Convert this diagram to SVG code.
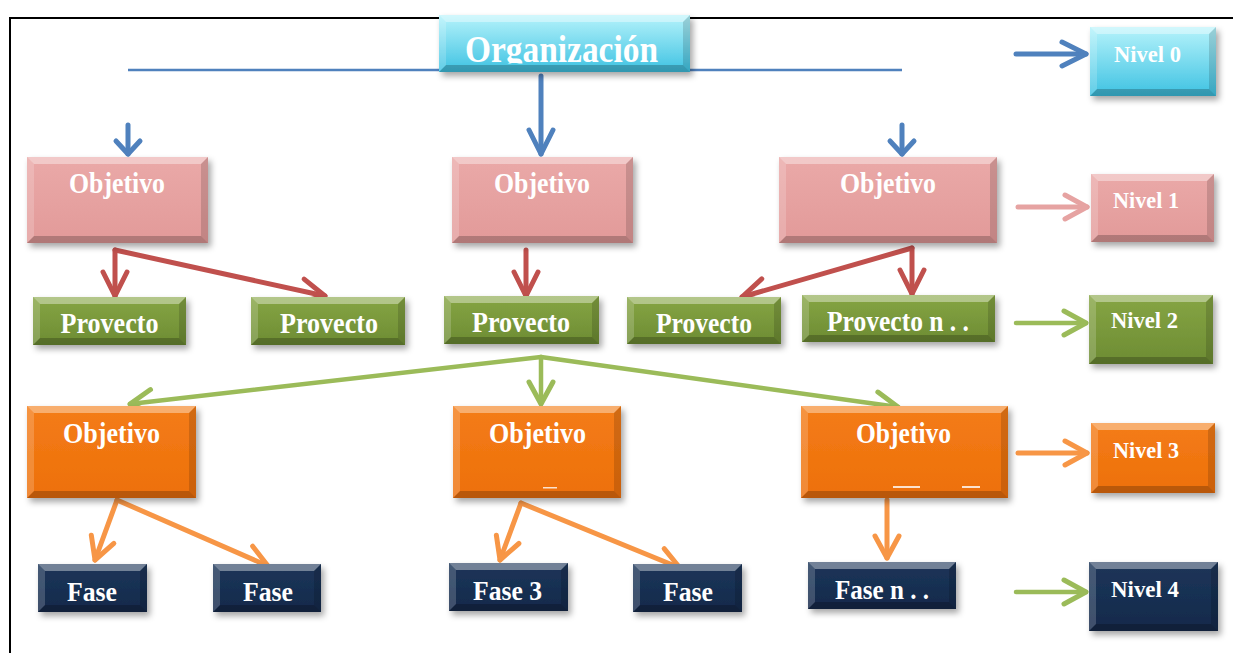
<svg xmlns="http://www.w3.org/2000/svg" width="1233" height="653" viewBox="0 0 1233 653">
  <defs>
    <style>
      .t{font-family:"Liberation Serif","Times New Roman",serif;font-weight:bold;fill:#fff;text-anchor:middle}
      .big{font-size:29px}
      .fase{font-size:28px}
      .niv{font-size:23px}
      .org{font-size:37px}
      .bt{fill:#fff;fill-opacity:.38}
      .bl{fill:#fff;fill-opacity:.18}
      .bb{fill:#000;fill-opacity:.22}
      .br{fill:#000;fill-opacity:.14}
      .box{filter:url(#sh)}
      .c{fill:none;stroke-linecap:round;stroke-linejoin:round}
      .blue{stroke:#4f81bd;stroke-width:5}
      .red{stroke:#c0504d;stroke-width:5}
      .grn{stroke:#9bbb59;stroke-width:4.5}
      .ora{stroke:#f79646;stroke-width:5}
      .pnk{stroke:#e6a3a2;stroke-width:5}
    </style>
    <filter id="sh" x="-10%" y="-10%" width="125%" height="140%">
      <feDropShadow dx="3" dy="4" stdDeviation="3" flood-color="#000" flood-opacity=".35"/>
    </filter>
    <linearGradient id="gCyan" x1="0" y1="0" x2="0" y2="1">
      <stop offset="0" stop-color="#b6f3fb"/><stop offset="1" stop-color="#3ec2e2"/>
    </linearGradient>
    <linearGradient id="gPink" x1="0" y1="0" x2="0" y2="1">
      <stop offset="0" stop-color="#eaa9a8"/><stop offset="1" stop-color="#e29a99"/>
    </linearGradient>
    <linearGradient id="gGreen" x1="0" y1="0" x2="0" y2="1">
      <stop offset="0" stop-color="#86a544"/><stop offset="1" stop-color="#6d8c33"/>
    </linearGradient>
    <linearGradient id="gOrange" x1="0" y1="0" x2="0" y2="1">
      <stop offset="0" stop-color="#f47c16"/><stop offset="1" stop-color="#ed700c"/>
    </linearGradient>
    <linearGradient id="gNavy" x1="0" y1="0" x2="0" y2="1">
      <stop offset="0" stop-color="#1d3559"/><stop offset="1" stop-color="#132a4b"/>
    </linearGradient>
    <clipPath id="orgClip"><rect x="439" y="15" width="251" height="48.5"/></clipPath>
    <marker id="mBlue" markerUnits="userSpaceOnUse" viewBox="-28 -18 34 36" refX="0" refY="0" markerWidth="34" markerHeight="36" orient="auto">
      <path d="M-24,-12 L0,0 L-24,12" fill="none" stroke="#4f81bd" stroke-width="5" stroke-linecap="round" stroke-linejoin="round"/>
    </marker>
    <marker id="mBlueS" markerUnits="userSpaceOnUse" viewBox="-18 -18 24 36" refX="0" refY="0" markerWidth="24" markerHeight="36" orient="auto">
      <path d="M-13,-12 L0,0 L-13,12" fill="none" stroke="#4f81bd" stroke-width="5" stroke-linecap="round" stroke-linejoin="round"/>
    </marker>
    <marker id="mRed" markerUnits="userSpaceOnUse" viewBox="-28 -18 34 36" refX="0" refY="0" markerWidth="34" markerHeight="36" orient="auto">
      <path d="M-24,-12 L0,0 L-24,12" fill="none" stroke="#c0504d" stroke-width="5" stroke-linecap="round" stroke-linejoin="round"/>
    </marker>
    <marker id="mGrn" markerUnits="userSpaceOnUse" viewBox="-28 -18 34 36" refX="0" refY="0" markerWidth="34" markerHeight="36" orient="auto">
      <path d="M-22,-12 L0,0 L-22,12" fill="none" stroke="#9bbb59" stroke-width="5" stroke-linecap="round" stroke-linejoin="round"/>
    </marker>
    <marker id="mOra" markerUnits="userSpaceOnUse" viewBox="-28 -18 34 36" refX="0" refY="0" markerWidth="34" markerHeight="36" orient="auto">
      <path d="M-22,-12 L0,0 L-22,12" fill="none" stroke="#f79646" stroke-width="5" stroke-linecap="round" stroke-linejoin="round"/>
    </marker>
    <marker id="mPnk" markerUnits="userSpaceOnUse" viewBox="-28 -18 34 36" refX="0" refY="0" markerWidth="34" markerHeight="36" orient="auto">
      <path d="M-22,-12 L0,0 L-22,12" fill="none" stroke="#e6a3a2" stroke-width="5" stroke-linecap="round" stroke-linejoin="round"/>
    </marker>
  </defs>

  <rect width="1233" height="653" fill="#fff"/>

  <!-- frame -->
  <path d="M10,653 V18 H1233" fill="none" stroke="#000" stroke-width="2"/>

  <!-- horizontal distribution line under the top box -->
  <path d="M128,70 H902" stroke="#4f81bd" stroke-width="2.5" fill="none"/>

  <!-- connectors -->
  <g id="connectors" class="c">
    <path class="c blue" d="M541,76 V154" marker-end="url(#mBlue)"/>
    <path class="c blue" d="M128,125 V154" marker-end="url(#mBlueS)"/>
    <path class="c blue" d="M902,125 V154" marker-end="url(#mBlueS)"/>

    <path class="c red" d="M115,250 V296" marker-end="url(#mRed)"/>
    <path class="c red" d="M115,250 L325,296" marker-end="url(#mRed)"/>
    <path class="c red" d="M526,250 V296" marker-end="url(#mRed)"/>
    <path class="c red" d="M912,248 V294" marker-end="url(#mRed)"/>
    <path class="c red" d="M912,248 L742,297" marker-end="url(#mRed)"/>

    <path class="c grn" d="M541,357 L130,404" marker-end="url(#mGrn)"/>
    <path class="c grn" d="M541,357 V404" marker-end="url(#mGrn)"/>
    <path class="c grn" d="M541,357 L898,407" marker-end="url(#mGrn)"/>

    <path class="c ora" d="M117,500 L95,560" marker-end="url(#mOra)"/>
    <path class="c ora" d="M117,500 L268,566" marker-end="url(#mOra)"/>
    <path class="c ora" d="M521,503 L500,560" marker-end="url(#mOra)"/>
    <path class="c ora" d="M521,503 L680,568" marker-end="url(#mOra)"/>
    <path class="c ora" d="M887,500 V558" marker-end="url(#mOra)"/>

    <path class="c blue" d="M1016,54 H1086" marker-end="url(#mBlue)"/>
    <path class="c pnk" d="M1018,207 H1087" marker-end="url(#mPnk)"/>
    <path class="c grn" d="M1016,323 H1086" marker-end="url(#mGrn)"/>
    <path class="c ora" d="M1018,453 H1087" marker-end="url(#mOra)"/>
    <path class="c grn" d="M1016,592 H1086" marker-end="url(#mGrn)"/>
  </g>

  <!-- level 0 -->
  <g id="organizacion">
    <rect class="box" x="439" y="15" width="251" height="57" fill="url(#gCyan)"/>
    <path class="bt" d="M439,15 h251 l-7,7 h-237 z"/>
    <path class="bb" d="M439,72 h251 l-7,-7 h-237 z"/>
    <path class="bl" d="M439,15 v57 l7,-7 v-43 z"/>
    <path class="br" d="M690,15 v57 l-7,-7 v-43 z"/>
    <text class="t org" x="561.5" y="62" textLength="193" lengthAdjust="spacingAndGlyphs" clip-path="url(#orgClip)">Organización</text>
  </g>
  <g id="nivel0">
    <rect class="box" x="1090" y="27" width="126" height="69" fill="url(#gCyan)"/>
    <path class="bt" d="M1090,27 h126 l-7,7 h-112 z"/>
    <path class="bb" d="M1090,96 h126 l-7,-7 h-112 z"/>
    <path class="bl" d="M1090,27 v69 l7,-7 v-55 z"/>
    <path class="br" d="M1216,27 v69 l-7,-7 v-55 z"/>
    <text class="t niv" x="1147.5" y="62" textLength="67" lengthAdjust="spacingAndGlyphs">Nivel 0</text>
  </g>

  <!-- level 1 -->
  <g id="objetivo-1a">
    <rect class="box" x="27" y="157" width="181" height="86" fill="url(#gPink)"/>
    <path class="bt" d="M27,157 h181 l-7,7 h-167 z"/>
    <path class="bb" d="M27,243 h181 l-7,-7 h-167 z"/>
    <path class="bl" d="M27,157 v86 l7,-7 v-72 z"/>
    <path class="br" d="M208,157 v86 l-7,-7 v-72 z"/>
    <text class="t big" x="117" y="193" textLength="96" lengthAdjust="spacingAndGlyphs">Objetivo</text>
  </g>
  <g id="objetivo-1b">
    <rect class="box" x="452" y="157" width="181" height="86" fill="url(#gPink)"/>
    <path class="bt" d="M452,157 h181 l-7,7 h-167 z"/>
    <path class="bb" d="M452,243 h181 l-7,-7 h-167 z"/>
    <path class="bl" d="M452,157 v86 l7,-7 v-72 z"/>
    <path class="br" d="M633,157 v86 l-7,-7 v-72 z"/>
    <text class="t big" x="542" y="193" textLength="96" lengthAdjust="spacingAndGlyphs">Objetivo</text>
  </g>
  <g id="objetivo-1c">
    <rect class="box" x="779" y="157" width="218" height="86" fill="url(#gPink)"/>
    <path class="bt" d="M779,157 h218 l-7,7 h-204 z"/>
    <path class="bb" d="M779,243 h218 l-7,-7 h-204 z"/>
    <path class="bl" d="M779,157 v86 l7,-7 v-72 z"/>
    <path class="br" d="M997,157 v86 l-7,-7 v-72 z"/>
    <text class="t big" x="888" y="193" textLength="96" lengthAdjust="spacingAndGlyphs">Objetivo</text>
  </g>
  <g id="nivel1">
    <rect class="box" x="1091" y="174" width="123" height="68" fill="url(#gPink)"/>
    <path class="bt" d="M1091,174 h123 l-7,7 h-109 z"/>
    <path class="bb" d="M1091,242 h123 l-7,-7 h-109 z"/>
    <path class="bl" d="M1091,174 v68 l7,-7 v-54 z"/>
    <path class="br" d="M1214,174 v68 l-7,-7 v-54 z"/>
    <text class="t niv" x="1146" y="208" textLength="66" lengthAdjust="spacingAndGlyphs">Nivel 1</text>
  </g>

  <!-- level 2 -->
  <g id="proyecto-1">
    <rect class="box" x="33" y="297" width="153" height="48" fill="url(#gGreen)"/>
    <path class="bt" d="M33,297 h153 l-7,7 h-139 z"/>
    <path class="bb" d="M33,345 h153 l-7,-7 h-139 z"/>
    <path class="bl" d="M33,297 v48 l7,-7 v-34 z"/>
    <path class="br" d="M186,297 v48 l-7,-7 v-34 z"/>
    <text class="t big" x="109.5" y="333" textLength="98" lengthAdjust="spacingAndGlyphs">Provecto</text>
  </g>
  <g id="proyecto-2">
    <rect class="box" x="251" y="297" width="154" height="48" fill="url(#gGreen)"/>
    <path class="bt" d="M251,297 h154 l-7,7 h-140 z"/>
    <path class="bb" d="M251,345 h154 l-7,-7 h-140 z"/>
    <path class="bl" d="M251,297 v48 l7,-7 v-34 z"/>
    <path class="br" d="M405,297 v48 l-7,-7 v-34 z"/>
    <text class="t big" x="329" y="333" textLength="98" lengthAdjust="spacingAndGlyphs">Provecto</text>
  </g>
  <g id="proyecto-3">
    <rect class="box" x="444" y="296" width="155" height="48" fill="url(#gGreen)"/>
    <path class="bt" d="M444,296 h155 l-7,7 h-141 z"/>
    <path class="bb" d="M444,344 h155 l-7,-7 h-141 z"/>
    <path class="bl" d="M444,296 v48 l7,-7 v-34 z"/>
    <path class="br" d="M599,296 v48 l-7,-7 v-34 z"/>
    <text class="t big" x="521" y="332" textLength="98" lengthAdjust="spacingAndGlyphs">Provecto</text>
  </g>
  <g id="proyecto-4">
    <rect class="box" x="627" y="297" width="154" height="47" fill="url(#gGreen)"/>
    <path class="bt" d="M627,297 h154 l-7,7 h-140 z"/>
    <path class="bb" d="M627,344 h154 l-7,-7 h-140 z"/>
    <path class="bl" d="M627,297 v47 l7,-7 v-33 z"/>
    <path class="br" d="M781,297 v47 l-7,-7 v-33 z"/>
    <text class="t big" x="704" y="333" textLength="96" lengthAdjust="spacingAndGlyphs">Provecto</text>
  </g>
  <g id="proyecto-n">
    <rect class="box" x="802" y="295" width="193" height="47" fill="url(#gGreen)"/>
    <path class="bt" d="M802,295 h193 l-7,7 h-179 z"/>
    <path class="bb" d="M802,342 h193 l-7,-7 h-179 z"/>
    <path class="bl" d="M802,295 v47 l7,-7 v-33 z"/>
    <path class="br" d="M995,295 v47 l-7,-7 v-33 z"/>
    <text class="t big" x="898" y="331" textLength="142" lengthAdjust="spacingAndGlyphs">Provecto n . .</text>
  </g>
  <g id="nivel2">
    <rect class="box" x="1089" y="295" width="124" height="69" fill="url(#gGreen)"/>
    <path class="bt" d="M1089,295 h124 l-7,7 h-110 z"/>
    <path class="bb" d="M1089,364 h124 l-7,-7 h-110 z"/>
    <path class="bl" d="M1089,295 v69 l7,-7 v-55 z"/>
    <path class="br" d="M1213,295 v69 l-7,-7 v-55 z"/>
    <text class="t niv" x="1144.5" y="328" textLength="67" lengthAdjust="spacingAndGlyphs">Nivel 2</text>
  </g>

  <!-- level 3 -->
  <g id="objetivo-3a">
    <rect class="box" x="27" y="406" width="169" height="92" fill="url(#gOrange)"/>
    <path class="bt" d="M27,406 h169 l-7,7 h-155 z"/>
    <path class="bb" d="M27,498 h169 l-7,-7 h-155 z"/>
    <path class="bl" d="M27,406 v92 l7,-7 v-78 z"/>
    <path class="br" d="M196,406 v92 l-7,-7 v-78 z"/>
    <text class="t big" x="111.5" y="443" textLength="97" lengthAdjust="spacingAndGlyphs">Objetivo</text>
  </g>
  <g id="objetivo-3b">
    <rect class="box" x="453" y="406" width="168" height="92" fill="url(#gOrange)"/>
    <path class="bt" d="M453,406 h168 l-7,7 h-154 z"/>
    <path class="bb" d="M453,498 h168 l-7,-7 h-154 z"/>
    <path class="bl" d="M453,406 v92 l7,-7 v-78 z"/>
    <path class="br" d="M621,406 v92 l-7,-7 v-78 z"/>
    <text class="t big" x="537.5" y="443" textLength="97" lengthAdjust="spacingAndGlyphs">Objetivo</text>
    <rect x="543" y="487" width="14" height="1.5" fill="#fff" fill-opacity=".8"/>
  </g>
  <g id="objetivo-3c">
    <rect class="box" x="801" y="406" width="207" height="92" fill="url(#gOrange)"/>
    <path class="bt" d="M801,406 h207 l-7,7 h-193 z"/>
    <path class="bb" d="M801,498 h207 l-7,-7 h-193 z"/>
    <path class="bl" d="M801,406 v92 l7,-7 v-78 z"/>
    <path class="br" d="M1008,406 v92 l-7,-7 v-78 z"/>
    <text class="t big" x="903.5" y="443" textLength="95" lengthAdjust="spacingAndGlyphs">Objetivo</text>
    <rect x="893" y="486" width="27" height="2" fill="#fff" fill-opacity=".8"/>
    <rect x="962" y="486" width="18" height="2" fill="#fff" fill-opacity=".8"/>
  </g>
  <g id="nivel3">
    <rect class="box" x="1091" y="423" width="124" height="70" fill="url(#gOrange)"/>
    <path class="bt" d="M1091,423 h124 l-7,7 h-110 z"/>
    <path class="bb" d="M1091,493 h124 l-7,-7 h-110 z"/>
    <path class="bl" d="M1091,423 v70 l7,-7 v-56 z"/>
    <path class="br" d="M1215,423 v70 l-7,-7 v-56 z"/>
    <text class="t niv" x="1146" y="458" textLength="66" lengthAdjust="spacingAndGlyphs">Nivel 3</text>
  </g>

  <!-- level 4 -->
  <g id="fase-1">
    <rect class="box" x="38" y="564" width="109" height="48" fill="url(#gNavy)"/>
    <path class="bt" d="M38,564 h109 l-7,7 h-95 z"/>
    <path class="bb" d="M38,612 h109 l-7,-7 h-95 z"/>
    <path class="bl" d="M38,564 v48 l7,-7 v-34 z"/>
    <path class="br" d="M147,564 v48 l-7,-7 v-34 z"/>
    <text class="t fase" x="92" y="601" textLength="50" lengthAdjust="spacingAndGlyphs">Fase</text>
  </g>
  <g id="fase-2">
    <rect class="box" x="213" y="564" width="108" height="48" fill="url(#gNavy)"/>
    <path class="bt" d="M213,564 h108 l-7,7 h-94 z"/>
    <path class="bb" d="M213,612 h108 l-7,-7 h-94 z"/>
    <path class="bl" d="M213,564 v48 l7,-7 v-34 z"/>
    <path class="br" d="M321,564 v48 l-7,-7 v-34 z"/>
    <text class="t fase" x="268" y="601" textLength="50" lengthAdjust="spacingAndGlyphs">Fase</text>
  </g>
  <g id="fase-3">
    <rect class="box" x="449" y="563" width="119" height="48" fill="url(#gNavy)"/>
    <path class="bt" d="M449,563 h119 l-7,7 h-105 z"/>
    <path class="bb" d="M449,611 h119 l-7,-7 h-105 z"/>
    <path class="bl" d="M449,563 v48 l7,-7 v-34 z"/>
    <path class="br" d="M568,563 v48 l-7,-7 v-34 z"/>
    <text class="t fase" x="507.5" y="600" textLength="69" lengthAdjust="spacingAndGlyphs">Fase 3</text>
  </g>
  <g id="fase-4">
    <rect class="box" x="633" y="564" width="109" height="48" fill="url(#gNavy)"/>
    <path class="bt" d="M633,564 h109 l-7,7 h-95 z"/>
    <path class="bb" d="M633,612 h109 l-7,-7 h-95 z"/>
    <path class="bl" d="M633,564 v48 l7,-7 v-34 z"/>
    <path class="br" d="M742,564 v48 l-7,-7 v-34 z"/>
    <text class="t fase" x="688" y="601" textLength="50" lengthAdjust="spacingAndGlyphs">Fase</text>
  </g>
  <g id="fase-n">
    <rect class="box" x="808" y="562" width="148" height="47" fill="url(#gNavy)"/>
    <path class="bt" d="M808,562 h148 l-7,7 h-134 z"/>
    <path class="bb" d="M808,609 h148 l-7,-7 h-134 z"/>
    <path class="bl" d="M808,562 v47 l7,-7 v-33 z"/>
    <path class="br" d="M956,562 v47 l-7,-7 v-33 z"/>
    <text class="t fase" x="882" y="599" textLength="94" lengthAdjust="spacingAndGlyphs">Fase n . .</text>
  </g>
  <g id="nivel4">
    <rect class="box" x="1089" y="562" width="129" height="69" fill="url(#gNavy)"/>
    <path class="bt" d="M1089,562 h129 l-7,7 h-115 z"/>
    <path class="bb" d="M1089,631 h129 l-7,-7 h-115 z"/>
    <path class="bl" d="M1089,562 v69 l7,-7 v-55 z"/>
    <path class="br" d="M1218,562 v69 l-7,-7 v-55 z"/>
    <text class="t niv" x="1145" y="597" textLength="68" lengthAdjust="spacingAndGlyphs">Nivel 4</text>
  </g>
</svg>
